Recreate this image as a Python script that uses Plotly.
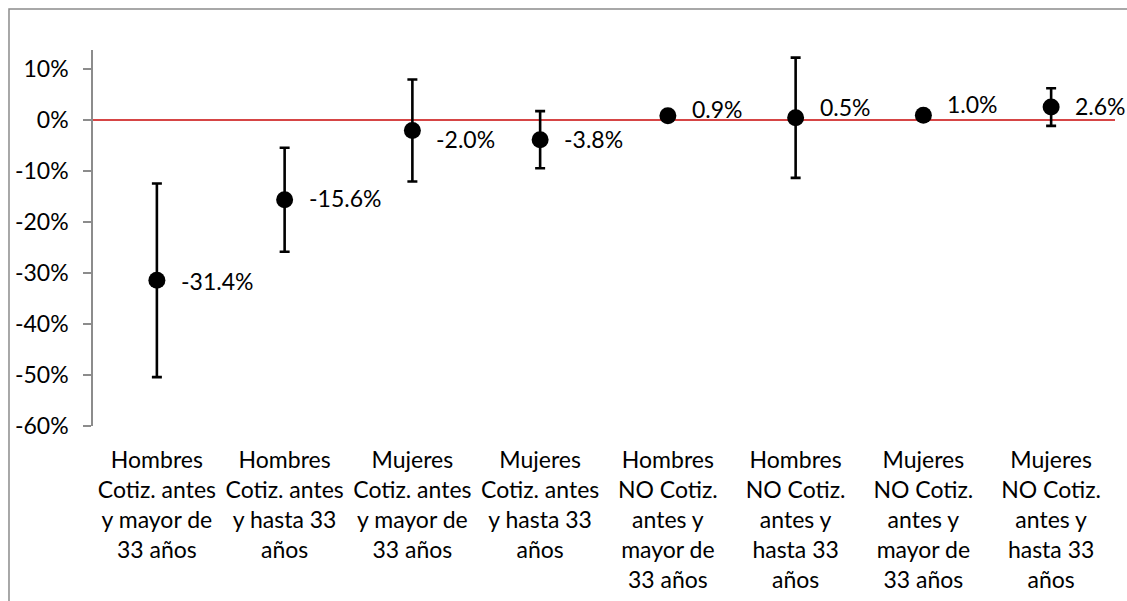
import plotly.graph_objects as go

categories = [
    "Hombres<br>Cotiz. antes<br>y mayor de<br>33 años",
    "Hombres<br>Cotiz. antes<br>y hasta 33<br>años",
    "Mujeres<br>Cotiz. antes<br>y mayor de<br>33 años",
    "Mujeres<br>Cotiz. antes<br>y hasta 33<br>años",
    "Hombres<br>NO Cotiz.<br>antes y<br>mayor de<br>33 años",
    "Hombres<br>NO Cotiz.<br>antes y<br>hasta 33<br>años",
    "Mujeres<br>NO Cotiz.<br>antes y<br>mayor de<br>33 años",
    "Mujeres<br>NO Cotiz.<br>antes y<br>hasta 33<br>años",
]
effects = [-0.314, -0.156, -0.020, -0.038, 0.009, 0.005, 0.010, 0.026]
ci_half = [0.190, 0.102, 0.100, 0.056, 0.003, 0.118, 0.002, 0.037]
y_ticks = [0.1, 0.0, -0.1, -0.2, -0.3, -0.4, -0.5, -0.6]
y_tick_text = ["10%", "0%", "-10%", "-20%", "-30%", "-40%", "-50%", "-60%"]

# vertical nudge (px) of each value label, to keep it clear of the error bars
label_nudge = [-1, 2, -8, 1, 7, 11, 11, 1]

FONT = "Lato, Carlito, Calibri, sans-serif"
FS = 23

fig = go.Figure()
fig.add_trace(go.Scatter(
    x=categories,
    y=effects,
    mode="markers",
    marker=dict(color="black", size=17),
    error_y=dict(type="data", array=ci_half, visible=True,
                 color="black", thickness=2.6, width=5),
    showlegend=False,
    hoverinfo="skip",
))

for cat, val, dy in zip(categories, effects, label_nudge):
    fig.add_annotation(
        x=cat, y=val, text=f"{val * 100:.1f}%",
        showarrow=False, xanchor="left", yanchor="middle",
        xshift=22, yshift=dy,
        font=dict(family=FONT, size=FS, color="black"),
    )

# outer chart border
fig.add_shape(type="rect", xref="paper", yref="paper",
              x0=-0.0822, x1=1.2, y0=-0.6, y1=1.109,
              line=dict(color="#8c8c8c", width=1.5), layer="below")

fig.update_layout(
    width=1127, height=601,
    margin=dict(l=93, r=12, t=50, b=175),
    paper_bgcolor="white", plot_bgcolor="white",
    font=dict(family=FONT, size=FS, color="black"),
    xaxis=dict(
        range=[-0.5, len(categories) - 0.5],
        automargin=False,
        showline=False, showgrid=False, zeroline=False,
        ticks="", tickfont=dict(family=FONT, size=FS, color="black"),
        ticklabelstandoff=18,
    ),
    yaxis=dict(
        range=[-0.6, 0.138],
        automargin=False,
        tickvals=y_ticks, ticktext=y_tick_text,
        showgrid=False,
        showline=True, linecolor="#8c8c8c", linewidth=1.5,
        ticks="outside", ticklen=8, tickcolor="#8c8c8c", tickwidth=1.5,
        zeroline=True, zerolinecolor="#d64545", zerolinewidth=1.5,
        tickfont=dict(family=FONT, size=FS, color="black"),
        ticklabelstandoff=10,
    ),
)

fig.write_html("out.html")
